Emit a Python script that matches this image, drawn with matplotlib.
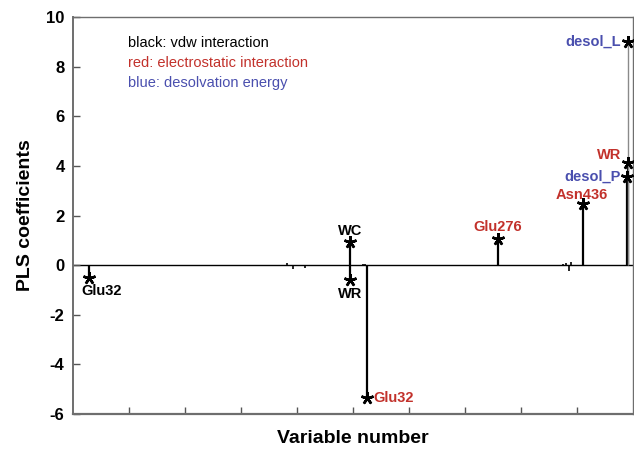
import matplotlib
matplotlib.use("Agg")
import matplotlib.pyplot as plt

plt.rcParams["font.family"] = ["Liberation Sans", "DejaVu Sans"]
plt.rcParams["axes.unicode_minus"] = False

# named PLS coefficients (variable position, coefficient, residue/term, energy term)
LAB_X = [2.8, 49.5, 49.5, 52.6, 75.9, 91.1, 99.2, 98.9, 99.2]
LAB_Y = [-0.5, 0.95, -0.6, -5.35, 1.05, 2.45, 4.1, 3.55, 9.0]
LAB_TEXT = ["Glu32", "WC", "WR", "Glu32", "Glu276", "Asn436", "WR", "desol_P", "desol_L"]
LAB_TERM = ["vdw", "vdw", "vdw", "elec", "elec", "elec", "elec", "desol", "desol"]

# remaining small coefficients
MINOR_X = [38.2, 39.3, 41.4, 51.8, 52.1, 87.5, 88.0, 88.6, 88.9, 91.8, 94.5]
MINOR_Y = [0.08, -0.15, -0.12, 0.05, 0.05, 0.05, 0.1, -0.22, 0.12, -0.05, -0.05]

TERM_COLOR = {"vdw": "black", "elec": "#c2312b", "desol": "#4a4fae"}
LEGEND = [("black: vdw interaction", "vdw"),
          ("red: electrostatic interaction", "elec"),
          ("blue: desolvation energy", "desol")]

# label placement: (dx, dy) in points, horizontal alignment
OFFSETS = [(-5, -10, "left"), (0, 8, "center"), (0, -10, "center"),
           (4, 0, "left"), (0, 9, "center"), (-1, 7, "center"),
           (-5, 6, "right"), (-4, 0, "right"), (-5, 0, "right")]

fig = plt.figure(figsize=(6.34, 4.51), dpi=100)
ax = fig.add_axes([0.115, 0.082, 0.883, 0.880])

ax.axhline(0, color="black", lw=1.0, zorder=1)
ax.vlines(MINOR_X, 0, MINOR_Y, color="black", lw=1.2, zorder=2)
for x, y, t in zip(LAB_X, LAB_Y, LAB_TEXT):
    big = t == "desol_L"
    ax.vlines(x, 0, y, color="#8a8a8a" if big else "black",
              lw=1.0 if big else 1.6, zorder=2)
# five-armed asterisk markers
ax.plot(LAB_X, LAB_Y, linestyle="none", marker=(5, 2, 0), color="black",
        markersize=9, markeredgewidth=1.8, zorder=3)

for x, y, t, term, (dx, dy, ha) in zip(LAB_X, LAB_Y, LAB_TEXT, LAB_TERM, OFFSETS):
    ax.annotate(t, (x, y), textcoords="offset points", xytext=(dx, dy),
                ha=ha, va="center", fontsize=10.5, fontweight="bold",
                color=TERM_COLOR[term], zorder=4)

for i, (txt, term) in enumerate(LEGEND):
    ax.text(0.098, 0.934 - i * 0.05, txt, transform=ax.transAxes,
            fontsize=10.5, color=TERM_COLOR[term], va="center", ha="left")

ax.set_xlim(0, 100)
ax.set_ylim(-6, 10)
ax.set_xticks(range(10, 100, 10))
ax.set_xticklabels([])
ax.set_yticks(range(-6, 11, 2))
ax.tick_params(axis="both", direction="in", length=5, width=1.0, color="#555555")
ax.tick_params(axis="y", labelsize=12, pad=6)
for lab in ax.get_yticklabels():
    lab.set_fontweight("bold")

for side in ["left", "bottom", "top", "right"]:
    ax.spines[side].set_color("#6e6e6e")
ax.spines["left"].set_linewidth(1.4)
ax.spines["bottom"].set_linewidth(1.6)
ax.spines["top"].set_linewidth(1.0)
ax.spines["right"].set_linewidth(1.0)

ax.set_xlabel("Variable number", fontsize=14, fontweight="bold", labelpad=8)
ax.set_ylabel("PLS coefficients", fontsize=14, fontweight="bold", labelpad=9)

fig.savefig("out.png", dpi=100)
